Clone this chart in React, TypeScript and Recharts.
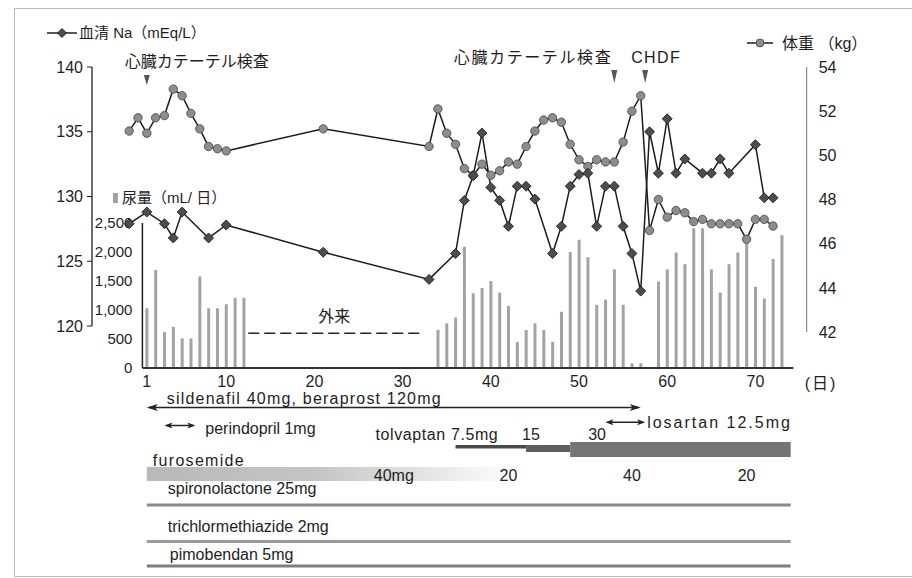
import React from "react";
import {
  ComposedChart,
  Bar,
  Line,
  XAxis,
  YAxis,
  ReferenceLine,
  ReferenceArea,
  ReferenceDot
} from "recharts";

// values (hospital day on x)
const naDays = [-1, 1, 3, 4, 5, 8, 10, 21, 33, 36, 37, 38, 39, 40, 41, 42, 43, 44, 45, 47, 48, 49, 50, 51, 52, 53, 54, 55, 56, 57, 58, 59, 60, 61, 62, 64, 65, 66, 67, 70, 71, 72];
const naValues = [127.9, 128.8, 127.9, 126.8, 128.8, 126.8, 127.8, 125.7, 123.6, 125.6, 129.7, 131.6, 134.9, 130.7, 129.7, 127.7, 130.8, 130.8, 129.8, 125.6, 127.7, 130.8, 131.7, 131.8, 127.7, 130.8, 130.8, 127.7, 125.6, 122.7, 135.0, 131.8, 136.0, 131.8, 132.9, 131.8, 131.8, 132.9, 131.8, 134.0, 129.9, 129.9];

const weightDays = [-1, 0, 1, 2, 3, 4, 5, 6, 7, 8, 9, 10, 21, 33, 34, 35, 36, 37, 38, 39, 40, 41, 42, 43, 44, 45, 46, 47, 48, 49, 50, 51, 52, 53, 54, 55, 56, 57, 58, 59, 60, 61, 62, 63, 64, 65, 66, 67, 68, 69, 70, 71, 72];
const weightValues = [51.1, 51.7, 51.0, 51.7, 51.8, 53.0, 52.7, 51.9, 51.2, 50.4, 50.3, 50.2, 51.2, 50.4, 52.1, 51.0, 50.5, 49.4, 49.1, 49.6, 49.1, 49.3, 49.7, 49.6, 50.4, 51.1, 51.6, 51.7, 51.5, 50.5, 49.8, 49.5, 49.8, 49.7, 49.7, 50.6, 52.0, 52.7, 46.6, 48.0, 47.2, 47.5, 47.4, 47.0, 47.1, 46.9, 46.9, 46.9, 46.9, 46.2, 47.1, 47.1, 46.8];

const urineDays = [1, 2, 3, 4, 5, 6, 7, 8, 9, 10, 11, 12, 34, 35, 36, 37, 38, 39, 40, 41, 42, 43, 44, 45, 46, 47, 48, 49, 50, 51, 52, 53, 54, 55, 56, 57, 59, 60, 61, 62, 63, 64, 65, 66, 67, 68, 69, 70, 71, 72, 73];
const urineValues = [1030, 1690, 620, 710, 510, 510, 1580, 1030, 1030, 1100, 1210, 1210, 655, 770, 870, 2090, 1290, 1380, 1500, 1300, 1070, 450, 655, 770, 655, 450, 970, 2000, 2210, 1910, 1090, 1180, 1700, 1090, 80, 80, 1490, 1700, 1990, 1790, 2410, 2410, 1700, 1300, 1790, 1990, 2150, 1400, 1200, 1880, 2290];

const dayTicks = [1, 10, 20, 30, 40, 50, 60, 70];
const naTicks = [120, 125, 130, 135, 140];
const weightTicks = [42, 44, 46, 48, 50, 52, 54];
const urineTicks = [0, 500, 1000, 1500, 2000, 2500];

const eventDays = [1, 54, 57.5];
const eventLabels = ["心臓カテーテル検査", "心臓カテーテル検査", "CHDF"];
const outpatientDays = [12.5, 32];

const sildenafilDays = [1, 57];
const perindoprilDays = [3, 6.5];
const losartanDays = [53, 57.5];
const tolvaptanDays = [36, 44, 49, 74];
const tolvaptanDoses = ["tolvaptan 7.5mg", "15", "30"];
const furosemideDays = [1, 43];
const furosemideLabelDays = [29, 42, 56, 69];
const furosemideDoses = ["40mg", "20", "40", "20"];
const steadyDays = [1, 74];
const steadyDrugs = ["spironolactone 25mg", "trichlormethiazide 2mg", "pimobendan 5mg"];

const NA_NAME = "血清 Na（mEq/L）";
const WT_NAME = "体重 （kg）";
const UR_NAME = "尿量（mL/ 日）";

const urineData = urineDays.map((day, i) => ({ day, urine: urineValues[i] }));
const naData = naDays.map((day, i) => ({ day, na: naValues[i] }));
const weightData = weightDays.map((day, i) => ({ day, wt: weightValues[i] }));

// layout / style
const FONT = "'Liberation Sans', Arial, 'Noto Sans CJK JP', sans-serif";
const INK = "#1e1e1e";
const X_DOMAIN: [number, number] = [-5.215, 75.816];
const NA_DOMAIN: [number, number] = [116.76, 140];
const WT_DOMAIN: [number, number] = [40.37, 54];
const UR_DOMAIN: [number, number] = [0, 5190];
const URINE_AXIS_DAY = 0.5;
const BASELINE_END = 74.3;
const OUTPATIENT_LEVEL = 600;

const eventStyle = [
  { dx: -22, anchor: "start", textDy: 0, triTop: 8, triBottom: 18, spacing: 0 },
  { dx: -2, anchor: "end", textDy: -4, triTop: 3, triBottom: 16, spacing: 1.6 },
  { dx: -14, anchor: "start", textDy: -4, triTop: 3, triBottom: 16, spacing: 1.4 }
];

const LANE = {
  sildenafil: 27.5,
  perindopril: 45.5,
  losartan: 42.3,
  tolvaptanText: 60,
  furosemideText: 86,
  furosemideDose: 101
};
const tolvBand = [[65, 68.5], [65, 72], [62, 77]];
const tolvFill = ["#4a4a4a", "#5e5e5e", "#747474"];
const tolvDx = [-80, -4, 18];
const steadyLane = [125, 161.5, 186];
const steadyText = [{ dx: 21, dy: -11.5 }, { dx: 21, dy: -9.8 }, { dx: 23, dy: -6.5 }];
const steadyStroke = ["#8a8a8a", "#9a9a9a", "#7e7e7e"];

const txt = { fontFamily: FONT, fill: INK };

const renderNaDot = (p: any) => {
  const { cx, cy, index } = p;
  if (cx == null || cy == null) return <g key={`na-${index}`} />;
  const s = 5;
  return (
    <polygon
      key={`na-${index}`}
      points={`${cx},${cy - s} ${cx + s},${cy} ${cx},${cy + s} ${cx - s},${cy}`}
      fill="#4d4d4d"
      stroke="#111"
      strokeWidth={0.8}
    />
  );
};

const renderWtDot = (p: any) => {
  const { cx, cy, index } = p;
  if (cx == null || cy == null) return <g key={`wt-${index}`} />;
  return <circle key={`wt-${index}`} cx={cx} cy={cy} r={4.2} fill="#8d8d8d" stroke="#444" strokeWidth={0.8} />;
};

const renderEvent = (i: number) => (p: any) => {
  const x = p.x1;
  const top = Math.min(p.y1, p.y2);
  const s = eventStyle[i];
  return (
    <g>
      <text x={x + s.dx} y={top + s.textDy} textAnchor={s.anchor} fontSize={16} letterSpacing={s.spacing} {...txt}>
        {eventLabels[i]}
      </text>
      <polygon points={`${x - 3},${top + s.triTop} ${x + 3},${top + s.triTop} ${x},${top + s.triBottom}`} fill="#555" />
    </g>
  );
};

const head = (x: number, y: number, dir: number, len: number, w: number) => (
  <polygon points={`${x},${y} ${x - dir * len},${y - w} ${x - dir * len * 0.75},${y} ${x - dir * len},${y + w}`} fill="#222" />
);

const doubleArrow = (label: string, len: number, w: number, textDx: number, textDy: number, spacing: number, textAtEnd: boolean) => (p: any) => {
  const left = Math.min(p.x1, p.x2);
  const right = Math.max(p.x1, p.x2);
  const y = p.y1;
  return (
    <g>
      <line x1={left + 2} y1={y} x2={right - 2} y2={y} stroke="#222" strokeWidth={1.5} />
      {head(left, y, -1, len, w)}
      {head(right, y, 1, len, w)}
      <text x={(textAtEnd ? right : left) + textDx} y={y + textDy} fontSize={16} letterSpacing={spacing} {...txt}>
        {label}
      </text>
    </g>
  );
};

const dotText = (label: string, dx: number, anchor: string, spacing = 0) => (p: any) => (
  <text x={p.cx + dx} y={p.cy} textAnchor={anchor} fontSize={16} letterSpacing={spacing} {...txt}>
    {label}
  </text>
);

export default function App() {
  return (
    <div style={{ position: "absolute", left: 0, top: 0, width: 912, height: 578, background: "#fff" }}>
      <div style={{ position: "absolute", left: 0, top: 0 }}>
        <ComposedChart width={912} height={400} data={urineData} margin={{ top: 67, right: 45.3, bottom: 2, left: 0 }}>
          <XAxis
            dataKey="day"
            type="number"
            domain={X_DOMAIN}
            allowDataOverflow
            ticks={dayTicks}
            interval={0}
            axisLine={false}
            tickLine={false}
            height={30}
            tick={{ fontSize: 16, ...txt }}
            label={{ value: "(日)", position: "right", offset: -2, fontSize: 16, letterSpacing: 2, ...txt }}
          />
          <YAxis
            yAxisId="na"
            orientation="left"
            type="number"
            width={92}
            domain={NA_DOMAIN}
            allowDataOverflow
            ticks={naTicks}
            interval={0}
            axisLine={false}
            tickSize={5}
            tickMargin={4}
            tickLine={{ stroke: INK }}
            tick={{ fontSize: 16, ...txt }}
          />
          <YAxis yAxisId="ur" hide type="number" domain={UR_DOMAIN} allowDataOverflow />
          <YAxis
            yAxisId="wt"
            orientation="right"
            type="number"
            width={60}
            domain={WT_DOMAIN}
            allowDataOverflow
            ticks={weightTicks}
            interval={0}
            axisLine={false}
            tickLine={false}
            tickSize={4}
            tickMargin={8}
            tick={{ fontSize: 16, ...txt }}
          />

          {/* axis lines that only cover part of the plot */}
          <ReferenceLine
            yAxisId="na"
            segment={[{ x: X_DOMAIN[0], y: naTicks[0] }, { x: X_DOMAIN[0], y: naTicks[naTicks.length - 1] }]}
            stroke={INK}
            strokeWidth={1.3}
            ifOverflow="visible"
          />
          <ReferenceLine
            yAxisId="wt"
            segment={[{ x: X_DOMAIN[1], y: weightTicks[0] }, { x: X_DOMAIN[1], y: weightTicks[weightTicks.length - 1] }]}
            stroke="#777"
            strokeWidth={1}
            ifOverflow="visible"
          />
          <ReferenceLine
            yAxisId="ur"
            segment={[{ x: URINE_AXIS_DAY, y: 0 }, { x: URINE_AXIS_DAY, y: urineTicks[urineTicks.length - 1] }]}
            stroke={INK}
            strokeWidth={1.5}
            ifOverflow="visible"
          />
          <ReferenceLine
            yAxisId="ur"
            segment={[{ x: URINE_AXIS_DAY, y: 0 }, { x: BASELINE_END, y: 0 }]}
            stroke="#333"
            strokeWidth={1.8}
            ifOverflow="visible"
          />
          {urineTicks.map((v) => (
            <ReferenceDot
              key={`ut-${v}`}
              yAxisId="ur"
              x={URINE_AXIS_DAY}
              y={v}
              r={0}
              ifOverflow="visible"
              shape={(p: any) => (
                <text x={p.cx - 10} y={p.cy} dy="0.35em" textAnchor="end" fontSize={15} {...txt}>
                  {v.toLocaleString("en-US")}
                </text>
              )}
            />
          ))}

          {eventDays.map((d, i) => (
            <ReferenceLine key={`ev-${i}`} yAxisId="na" x={d} ifOverflow="visible" shape={renderEvent(i)} />
          ))}

          <ReferenceLine
            yAxisId="ur"
            segment={[{ x: outpatientDays[0], y: OUTPATIENT_LEVEL }, { x: outpatientDays[1], y: OUTPATIENT_LEVEL }]}
            ifOverflow="visible"
            shape={(p: any) => (
              <g>
                <line x1={p.x1} y1={p.y1} x2={p.x2} y2={p.y2} stroke="#222" strokeWidth={1.5} strokeDasharray="11 5" />
                <text x={(p.x1 + p.x2) / 2} y={p.y1 - 17} dy="0.35em" textAnchor="middle" fontSize={16} {...txt}>
                  外来
                </text>
              </g>
            )}
          />

          <Bar yAxisId="ur" dataKey="urine" name={UR_NAME} barSize={3} fill="#a3a3a3" isAnimationActive={false} />
          <Line
            yAxisId="wt"
            data={weightData}
            dataKey="wt"
            name={WT_NAME}
            stroke="#1c1c1c"
            strokeWidth={1.5}
            dot={renderWtDot}
            activeDot={false}
            isAnimationActive={false}
          />
          <Line
            yAxisId="na"
            data={naData}
            dataKey="na"
            name={NA_NAME}
            stroke="#1c1c1c"
            strokeWidth={1.5}
            dot={renderNaDot}
            activeDot={false}
            isAnimationActive={false}
          />
        </ComposedChart>
      </div>

      {/* medication timeline, sharing the day scale */}
      <div style={{ position: "absolute", left: 0, top: 380 }}>
        <ComposedChart
          width={912}
          height={198}
          data={[{ day: steadyDays[0] }, { day: steadyDays[1] }]}
          margin={{ top: 0, right: 105.3, bottom: 0, left: 92 }}
        >
          <XAxis hide dataKey="day" type="number" domain={X_DOMAIN} allowDataOverflow />
          <YAxis hide yAxisId="lane" type="number" domain={[0, 198]} reversed allowDataOverflow />

          <ReferenceLine
            yAxisId="lane"
            segment={[{ x: sildenafilDays[0], y: LANE.sildenafil }, { x: sildenafilDays[1], y: LANE.sildenafil }]}
            ifOverflow="visible"
            shape={doubleArrow("sildenafil 40mg, beraprost 120mg", 11, 3.5, 20, -3.5, 1.2, false)}
          />
          <ReferenceLine
            yAxisId="lane"
            segment={[{ x: perindoprilDays[0], y: LANE.perindopril }, { x: perindoprilDays[1], y: LANE.perindopril }]}
            ifOverflow="visible"
            shape={doubleArrow("perindopril 1mg", 8, 3, 10, 8.5, 0, true)}
          />
          <ReferenceLine
            yAxisId="lane"
            segment={[{ x: losartanDays[0], y: LANE.losartan }, { x: losartanDays[1], y: LANE.losartan }]}
            ifOverflow="visible"
            shape={doubleArrow("losartan 12.5mg", 8, 3, 2, 6, 2, true)}
          />

          {tolvaptanDoses.map((dose, i) => (
            <ReferenceArea
              key={`tv-${i}`}
              yAxisId="lane"
              x1={tolvaptanDays[i]}
              x2={tolvaptanDays[i + 1]}
              y1={tolvBand[i][0]}
              y2={tolvBand[i][1]}
              fill={tolvFill[i]}
              fillOpacity={1}
              stroke="none"
              ifOverflow="visible"
            />
          ))}
          {tolvaptanDoses.map((dose, i) => (
            <ReferenceDot
              key={`tvl-${i}`}
              yAxisId="lane"
              x={tolvaptanDays[i]}
              y={LANE.tolvaptanText}
              r={0}
              ifOverflow="visible"
              shape={dotText(dose, tolvDx[i], "start", i === 0 ? 0.6 : 0)}
            />
          ))}

          <ReferenceArea
            yAxisId="lane"
            x1={furosemideDays[0]}
            x2={furosemideDays[1]}
            y1={87}
            y2={101}
            ifOverflow="visible"
            shape={(p: any) => (
              <g>
                <defs>
                  <linearGradient id="furoGrad" x1="0" x2="1" y1="0" y2="0">
                    <stop offset="0" stopColor="#b9b9b9" />
                    <stop offset="0.45" stopColor="#c4c4c4" />
                    <stop offset="0.75" stopColor="#e4e4e4" />
                    <stop offset="1" stopColor="#ffffff" />
                  </linearGradient>
                </defs>
                <rect x={p.x} y={p.y} width={p.width} height={p.height} fill="url(#furoGrad)" />
              </g>
            )}
          />
          <ReferenceDot
            yAxisId="lane"
            x={furosemideDays[0]}
            y={LANE.furosemideText}
            r={0}
            ifOverflow="visible"
            shape={dotText("furosemide", 6, "start", 1.3)}
          />
          {furosemideDoses.map((dose, i) => (
            <ReferenceDot
              key={`fd-${i}`}
              yAxisId="lane"
              x={furosemideLabelDays[i]}
              y={LANE.furosemideDose}
              r={0}
              ifOverflow="visible"
              shape={dotText(dose, 0, "middle")}
            />
          ))}

          {steadyDrugs.map((name, i) => (
            <ReferenceLine
              key={`sd-${i}`}
              yAxisId="lane"
              segment={[{ x: steadyDays[0], y: steadyLane[i] }, { x: steadyDays[1], y: steadyLane[i] }]}
              ifOverflow="visible"
              shape={(p: any) => (
                <g>
                  <line x1={p.x1} y1={p.y1} x2={p.x2} y2={p.y2} stroke={steadyStroke[i]} strokeWidth={3} />
                  <text x={p.x1 + steadyText[i].dx} y={p.y1 + steadyText[i].dy} fontSize={16} {...txt}>
                    {name}
                  </text>
                </g>
              )}
            />
          ))}
        </ComposedChart>
      </div>

      {/* legends and scan frame */}
      <svg width={912} height={578} style={{ position: "absolute", left: 0, top: 0, pointerEvents: "none" }}>
        <line x1={14} y1={8.5} x2={912} y2={8.5} stroke="#bbb" />
        <line x1={14.5} y1={8} x2={14.5} y2={577} stroke="#bbb" />
        <line x1={14} y1={576.5} x2={912} y2={576.5} stroke="#bbb" />

        <line x1={47} y1={33} x2={77} y2={33} stroke={INK} strokeWidth={1.5} />
        <polygon points="62,28.5 66.5,33 62,37.5 57.5,33" fill="#4d4d4d" stroke="#111" strokeWidth={0.8} />
        <text x={79} y={33} dy="0.36em" fontSize={15} {...txt}>
          {NA_NAME}
        </text>

        <line x1={747} y1={43} x2={773} y2={43} stroke={INK} strokeWidth={1.5} />
        <circle cx={760} cy={43} r={4} fill="#8d8d8d" stroke="#444" strokeWidth={0.8} />
        <text x={782} y={43} dy="0.36em" fontSize={16} {...txt}>
          {WT_NAME}
        </text>

        <rect x={113} y={193} width={5} height={10} fill="#a3a3a3" />
        <text x={122} y={198} dy="0.36em" fontSize={15} {...txt}>
          {UR_NAME}
        </text>
      </svg>
    </div>
  );
}
